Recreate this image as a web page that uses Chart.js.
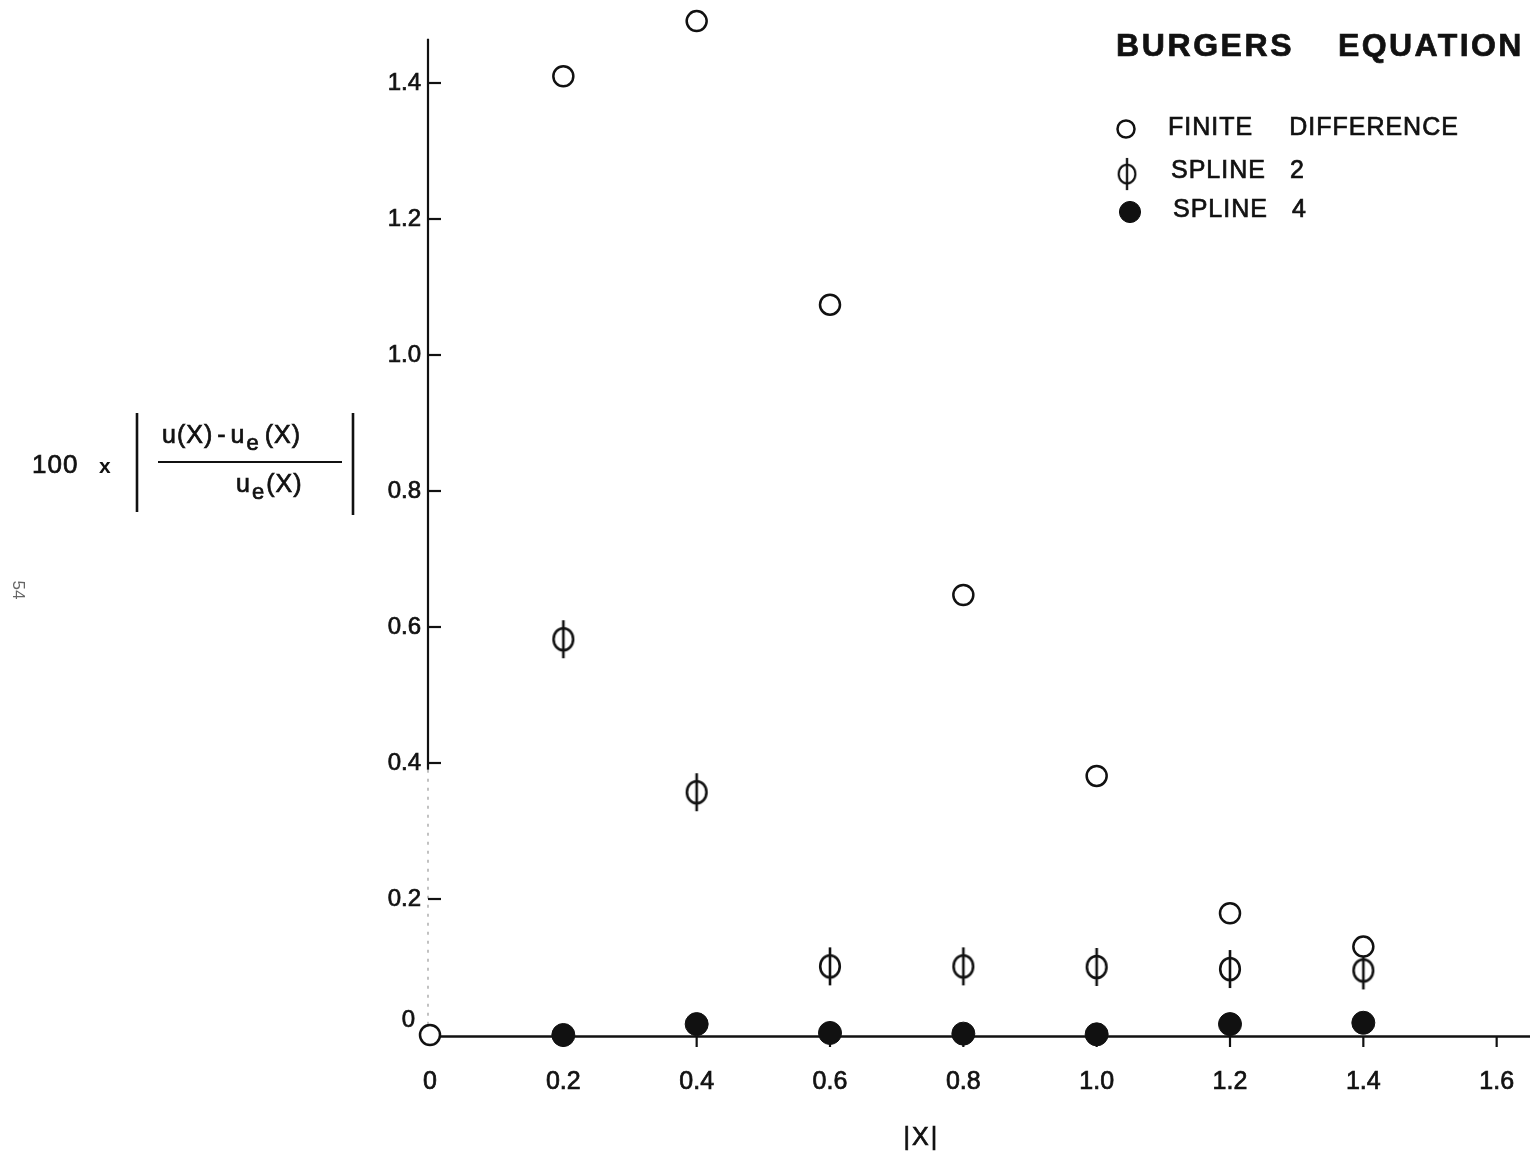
<!DOCTYPE html>
<html>
<head>
<meta charset="utf-8">
<title>Burgers Equation – relative error</title>
<script src="https://cdn.jsdelivr.net/npm/chart.js@4/dist/chart.umd.min.js"></script>
<style>
  html, body { margin: 0; padding: 0; background: #fff; }
  #wrap { width: 1530px; height: 1151px; }
</style>
</head>
<body>
<div id="wrap"><canvas id="chart" width="1530" height="1151"></canvas></div>
<script>
// |x| sample positions
const xPositions = [0, 0.2, 0.4, 0.6, 0.8, 1.0, 1.2, 1.4];

// 100 x |(u(x) - u_e(x)) / u_e(x)| for each method
const finiteDifference = [0.000, 1.410, 1.491, 1.074, 0.647, 0.381, 0.179, 0.130];
const spline2 = [null, 0.582, 0.357, 0.101, 0.101, 0.100, 0.097, 0.095];
const spline4 = [null, 0.000, 0.016, 0.003, 0.002, 0.001, 0.016, 0.018];

const seriesLabels = ['FINITE DIFFERENCE', 'SPLINE 2', 'SPLINE 4'];
const chartTitle = 'BURGERS EQUATION';
const xAxisTitle = '|X|';
const pageNumber = '54';

const xTickValues = [0, 0.2, 0.4, 0.6, 0.8, 1.0, 1.2, 1.4, 1.6];
const yTickValues = [0, 0.2, 0.4, 0.6, 0.8, 1.0, 1.2, 1.4];
const yAxisTop = 1.465;   // where the drawn vertical axis stops

const INK = '#111';
const FONT = '"Liberation Sans", Arial, sans-serif';
const TEXT_STROKE = 0.7;  // thickens the lettering slightly

function toPoints(values) {
  return xPositions
    .map((x, i) => ({ x: x, y: values[i] }))
    .filter(p => p.y !== null);
}

// circle crossed by a vertical stroke (the "phi" marker)
function makePhiMarker() {
  const c = document.createElement('canvas');
  c.width = 28; c.height = 40;
  const g = c.getContext('2d');
  g.strokeStyle = INK;
  g.lineWidth = 2.6;
  g.beginPath();
  g.ellipse(14, 20, 9.8, 11, 0, 0, Math.PI * 2);
  g.stroke();
  g.beginPath();
  g.moveTo(14, 1);
  g.lineTo(14, 39);
  g.stroke();
  return c;
}
const phiMarker = makePhiMarker();

function drawSpaced(ctx, text, x, y, spacing) {
  ctx.save();
  ctx.letterSpacing = spacing + 'px';
  ctx.lineWidth = TEXT_STROKE;
  ctx.strokeStyle = ctx.fillStyle;
  ctx.strokeText(text, x, y);
  ctx.fillText(text, x, y);
  ctx.restore();
}

// axes, ticks and the hand-lettered annotations
const annotations = {
  id: 'annotations',
  beforeDatasetsDraw(chart) {
    const { ctx, scales: { x, y } } = chart;
    const x0 = x.getPixelForValue(0);
    const y0 = y.getPixelForValue(0);
    ctx.save();
    ctx.strokeStyle = INK;
    ctx.lineCap = 'butt';

    // horizontal axis
    ctx.lineWidth = 2.4;
    ctx.beginPath();
    ctx.moveTo(x0, y0 + 1.5);
    ctx.lineTo(chart.chartArea.right, y0 + 1.5);
    ctx.stroke();

    // vertical axis: firm upper part, faint lower part
    const ySolidEnd = y.getPixelForValue(0.39);
    ctx.lineWidth = 2.2;
    ctx.beginPath();
    ctx.moveTo(x0 - 2, y.getPixelForValue(yAxisTop));
    ctx.lineTo(x0 - 2, ySolidEnd);
    ctx.stroke();
    ctx.strokeStyle = '#999';
    ctx.lineWidth = 1.2;
    ctx.setLineDash([3, 6]);
    ctx.beginPath();
    ctx.moveTo(x0 - 2, ySolidEnd);
    ctx.lineTo(x0 - 2, y0 - 10);
    ctx.stroke();
    ctx.setLineDash([]);

    // y ticks point into the plot
    ctx.strokeStyle = INK;
    ctx.lineWidth = 2.2;
    yTickValues.forEach(v => {
      if (v === 0) return;
      const py = y.getPixelForValue(v);
      ctx.beginPath();
      ctx.moveTo(x0 - 2, py);
      ctx.lineTo(x0 + 11, py);
      ctx.stroke();
    });

    // x ticks hang below the axis
    xTickValues.forEach(v => {
      if (v === 0) return;
      const px = x.getPixelForValue(v);
      ctx.beginPath();
      ctx.moveTo(px, y0 + 1);
      ctx.lineTo(px, y0 + 12);
      ctx.stroke();
    });
    ctx.restore();
  },
  afterDraw(chart) {
    const { ctx, scales: { x, y } } = chart;
    const x0 = x.getPixelForValue(0);
    const y0 = y.getPixelForValue(0);
    ctx.save();
    ctx.fillStyle = INK;
    ctx.strokeStyle = INK;
    ctx.textBaseline = 'middle';

    // origin label of the value axis
    ctx.font = '24px ' + FONT;
    ctx.textAlign = 'right';
    drawSpaced(ctx, '0', x0 - 15, y0 - 15, 0);

    // x-axis title
    ctx.font = '25px ' + FONT;
    ctx.textAlign = 'center';
    drawSpaced(ctx, xAxisTitle, x.getPixelForValue(0.737), 1138, 2);

    // value-axis title: 100 x |(u(X) - u_e(X)) / u_e(X)|
    ctx.textAlign = 'left';
    ctx.font = '26px ' + FONT;
    drawSpaced(ctx, '100', 32, 466, 1);
    ctx.font = 'bold 21px ' + FONT;
    ctx.fillText('x', 99, 467);

    ctx.lineWidth = 2.6;
    ctx.beginPath();
    ctx.moveTo(137, 413); ctx.lineTo(137, 512);
    ctx.moveTo(353, 413); ctx.lineTo(353, 515);
    ctx.stroke();
    ctx.lineWidth = 2;
    ctx.beginPath();
    ctx.moveTo(158, 462); ctx.lineTo(342, 462);
    ctx.stroke();

    function withSubscript(parts, startX, midY) {
      let cx = startX;
      parts.forEach(p => {
        ctx.font = (p.sub ? '22px ' : '25px ') + FONT;
        drawSpaced(ctx, p.t, cx, midY + (p.sub ? 8 : 0), 1);
        ctx.save();
        ctx.letterSpacing = '1px';
        cx += ctx.measureText(p.t).width + (p.gap || 0);
        ctx.restore();
      });
    }
    withSubscript([{ t: 'u(X)', gap: 4 }, { t: '-', gap: 4 }, { t: 'u', gap: 1 }, { t: 'e', sub: true, gap: 5 }, { t: '(X)' }], 162, 436);
    withSubscript([{ t: 'u', gap: 1 }, { t: 'e', sub: true, gap: 1 }, { t: '(X)' }], 236, 485);

    // page number printed sideways in the margin
    ctx.save();
    ctx.translate(18, 590);
    ctx.rotate(Math.PI / 2);
    ctx.fillStyle = '#666';
    ctx.font = '17px ' + FONT;
    ctx.textAlign = 'center';
    ctx.fillText(pageNumber, 0, 0);
    ctx.restore();

    // title
    ctx.fillStyle = INK;
    ctx.textAlign = 'left';
    ctx.font = 'bold 32px ' + FONT;
    const words = chartTitle.split(' ');
    drawSpaced(ctx, words[0], 1116, 47, 2.6);
    drawSpaced(ctx, words[1], 1338, 47, 2.4);

    // legend, built from the datasets
    const rows = [
      { mx: 1126, my: 129, tx: 1168, ty: 128, scale: 0.85 },
      { mx: 1127, my: 174, tx: 1171, ty: 171, scale: 0.85 },
      { mx: 1130, my: 212, tx: 1173, ty: 210, scale: 0.92 }
    ];
    chart.data.datasets.forEach((ds, i) => {
      const r = rows[i];
      if (ds.pointStyle instanceof HTMLCanvasElement) {
        const w = ds.pointStyle.width * r.scale, h = ds.pointStyle.height * r.scale;
        ctx.drawImage(ds.pointStyle, r.mx - w / 2, r.my - h / 2, w, h);
      } else {
        ctx.save();
        ctx.fillStyle = ds.backgroundColor;
        ctx.strokeStyle = ds.borderColor;
        ctx.lineWidth = ds.borderWidth;
        Chart.helpers.drawPoint(ctx, {
          pointStyle: ds.pointStyle,
          radius: ds.pointRadius * r.scale,
          borderWidth: ds.borderWidth
        }, r.mx, r.my);
        ctx.restore();
      }
      ctx.font = '25px ' + FONT;
      ctx.fillStyle = INK;
      let cx = r.tx;
      ds.label.split(' ').forEach(word => {
        drawSpaced(ctx, word, cx, r.ty, 1);
        ctx.save();
        ctx.letterSpacing = '1px';
        cx += ctx.measureText(word).width + (i === 0 ? 36 : 24);
        ctx.restore();
      });
    });
    ctx.restore();
  }
};

const chart = new Chart(document.getElementById('chart'), {
  type: 'scatter',
  data: {
    datasets: [
      {
        label: seriesLabels[0],
        data: toPoints(finiteDifference),
        pointStyle: 'circle',
        pointRadius: 10,
        backgroundColor: '#fff',
        borderColor: INK,
        borderWidth: 2.5,
        clip: false
      },
      {
        label: seriesLabels[1],
        data: toPoints(spline2),
        pointStyle: phiMarker,
        pointRadius: 10,
        backgroundColor: '#fff',
        borderColor: INK,
        borderWidth: 2.5,
        clip: false
      },
      {
        label: seriesLabels[2],
        data: toPoints(spline4),
        pointStyle: 'circle',
        pointRadius: 11.5,
        backgroundColor: INK,
        borderColor: INK,
        borderWidth: 1,
        clip: false
      }
    ]
  },
  options: {
    responsive: false,
    animation: false,
    events: [],
    layout: { autoPadding: false, padding: { top: 1.4, right: 0, bottom: 0, left: 0 } },
    plugins: {
      legend: { display: false },
      title: { display: false },
      tooltip: { enabled: false }
    },
    scales: {
      x: {
        type: 'linear',
        min: 0,
        max: 1.65,
        grid: { display: false, drawTicks: false },
        border: { display: false },
        afterFit(scale) {
          scale.height = 116;
          scale.paddingLeft = 0;
          scale.paddingRight = 0;
        },
        afterBuildTicks(scale) { scale.ticks = xTickValues.map(v => ({ value: v })); },
        ticks: {
          includeBounds: false,
          padding: 32,
          color: INK,
          textStrokeColor: INK,
          textStrokeWidth: TEXT_STROKE,
          font: { family: FONT, size: 25 },
          callback: v => (v === 0 ? '0' : v.toFixed(1))
        }
      },
      y: {
        type: 'linear',
        min: 0,
        max: 1.52,
        grid: { display: false, drawTicks: false },
        border: { display: false },
        afterFit(scale) {
          scale.width = 430;
          scale.paddingTop = 0;
          scale.paddingBottom = 0;
        },
        afterBuildTicks(scale) { scale.ticks = yTickValues.map(v => ({ value: v })); },
        ticks: {
          includeBounds: false,
          padding: 9,
          color: INK,
          textStrokeColor: INK,
          textStrokeWidth: TEXT_STROKE,
          font: { family: FONT, size: 24 },
          callback: v => (v === 0 ? '' : v.toFixed(1))
        }
      }
    }
  },
  plugins: [annotations]
});
</script>
</body>
</html>
